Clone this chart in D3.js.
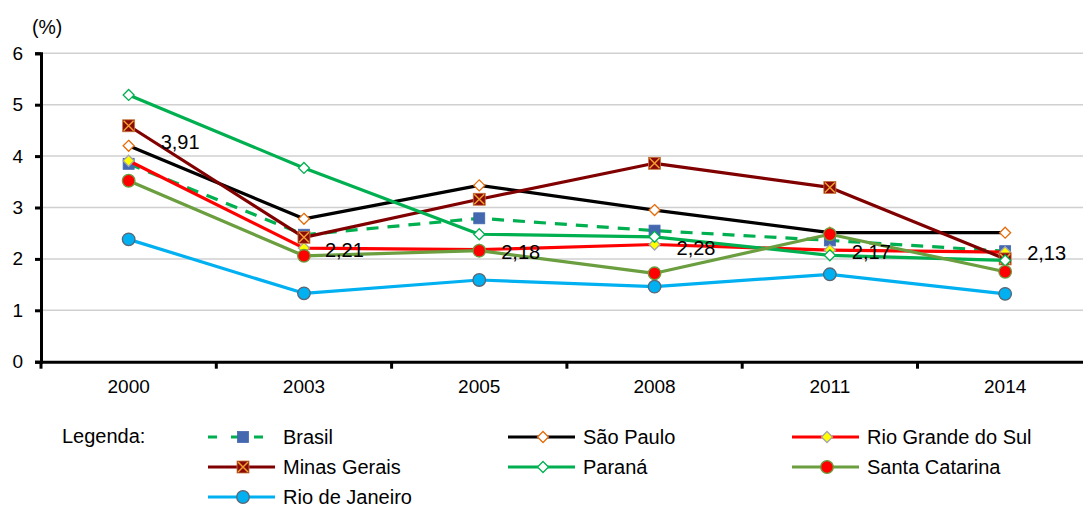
<!DOCTYPE html>
<html>
<head>
<meta charset="utf-8">
<script src="https://cdn.jsdelivr.net/npm/d3@7/dist/d3.min.js"></script>
<style>
  html, body { margin: 0; padding: 0; background: #fff; }
  svg { display: block; font-family: "Liberation Sans", Arial, sans-serif; }
</style>
</head>
<body>
<svg id="chart" width="1083" height="507"></svg>
<script>
// Years on the horizontal axis
const years = ["2000", "2003", "2005", "2008", "2011", "2014"];
const yTicks = [0, 1, 2, 3, 4, 5, 6];

// Rates (%) per region
const brasil          = [3.85, 2.47, 2.79, 2.55, 2.36, 2.15];
const saoPaulo        = [4.20, 2.78, 3.43, 2.95, 2.51, 2.51];
const rioGrandeDoSul  = [3.91, 2.21, 2.18, 2.28, 2.17, 2.13];
const minasGerais     = [4.59, 2.42, 3.16, 3.86, 3.39, 2.00];
const parana          = [5.19, 3.77, 2.48, 2.43, 2.07, 1.97];
const santaCatarina   = [3.52, 2.06, 2.16, 1.72, 2.48, 1.75];
const rioDeJaneiro    = [2.38, 1.33, 1.59, 1.46, 1.70, 1.32];

const seriesNames = ["Brasil", "São Paulo", "Rio Grande do Sul", "Minas Gerais",
                     "Paraná", "Santa Catarina", "Rio de Janeiro"];
const seriesValues = [brasil, saoPaulo, rioGrandeDoSul, minasGerais,
                      parana, santaCatarina, rioDeJaneiro];

// Visual style for each series
const styles = [
  { line: "#00B050", dash: "12,9", marker: "square",  fill: "#4468B0", stroke: "#4468B0" },
  { line: "#000000", dash: null,   marker: "diamond", fill: "#FFFFFF", stroke: "#E46C0A" },
  { line: "#FF0000", dash: null,   marker: "diamond", fill: "#FFFF00", stroke: "#A6A6A6" },
  { line: "#800000", dash: null,   marker: "xbox",    fill: "#8B0A0A", stroke: "#F0A030" },
  { line: "#00B050", dash: null,   marker: "diamond", fill: "#FFFFFF", stroke: "#00B050" },
  { line: "#6A9E3F", dash: null,   marker: "circle",  fill: "#FF0000", stroke: "#6A9E3F" },
  { line: "#00B0F0", dash: null,   marker: "circle",  fill: "#00B0F0", stroke: "#5A6675" }
];

const svg = d3.select("#chart");

const plotLeft = 41, band = 175.3;
const x = d3.scaleBand().domain(years).range([plotLeft, plotLeft + band * years.length]).padding(0);
const y = d3.scaleLinear().domain([0, 6]).range([361.7, 53.3]);
const cx = d => x(d) + x.bandwidth() / 2;

// Horizontal gridlines
svg.append("g").selectAll("line")
  .data(yTicks.filter(t => t > 0))
  .join("line")
  .attr("x1", plotLeft).attr("x2", x.range()[1])
  .attr("y1", d => y(d)).attr("y2", d => y(d))
  .attr("stroke", "#D0D0D0").attr("stroke-width", 1.5);

// Y axis
const yAxis = svg.append("g")
  .attr("transform", `translate(${plotLeft},0)`)
  .call(d3.axisLeft(y).tickValues(yTicks).tickSize(6).tickPadding(12).tickFormat(d3.format("d")));
yAxis.select(".domain").attr("stroke", "#000").attr("stroke-width", 3);
yAxis.selectAll(".tick line").attr("stroke", "#000").attr("stroke-width", 3);
yAxis.selectAll("text").attr("font-size", 19).attr("fill", "#000")
  .attr("font-family", "Liberation Sans, Arial, sans-serif");

// Unit label
svg.append("text").attr("x", 32).attr("y", 34)
  .attr("font-size", 19.5).attr("fill", "#000").text("(%)");

// X axis with tick marks on category boundaries
const xAxis = svg.append("g")
  .attr("transform", `translate(0,${y(0)})`)
  .call(d3.axisBottom(x).tickSize(0).tickPadding(18));
xAxis.select(".domain").attr("stroke", "#000").attr("stroke-width", 3);
xAxis.selectAll("text").attr("font-size", 19).attr("fill", "#000")
  .attr("font-family", "Liberation Sans, Arial, sans-serif");
xAxis.selectAll("line.bound")
  .data(years.map(d => x(d)).concat([x.range()[1]]))
  .join("line").attr("class", "bound")
  .attr("x1", d => d).attr("x2", d => d)
  .attr("y1", 0).attr("y2", 7)
  .attr("stroke", "#000").attr("stroke-width", 3);

// Marker drawing
function drawMarker(g, type, s) {
  if (type === "square") {
    g.append("rect").attr("x", -5.5).attr("y", -5.5).attr("width", 11).attr("height", 11)
      .attr("fill", s.fill).attr("stroke", s.stroke).attr("stroke-width", 0.8);
  } else if (type === "diamond") {
    g.append("path").attr("d", "M0,-5.5L5.5,0L0,5.5L-5.5,0Z")
      .attr("fill", s.fill).attr("stroke", s.stroke).attr("stroke-width", 1.3);
  } else if (type === "circle") {
    g.append("circle").attr("r", 6.3)
      .attr("fill", s.fill).attr("stroke", s.stroke).attr("stroke-width", 1.3);
  } else if (type === "xbox") {
    g.append("rect").attr("x", -6).attr("y", -6).attr("width", 12).attr("height", 12)
      .attr("fill", s.fill).attr("stroke", "#C87A3A").attr("stroke-width", 0.8);
    g.append("path").attr("d", "M-5,-5L5,5M5,-5L-5,5")
      .attr("stroke", s.stroke).attr("stroke-width", 1.5).attr("fill", "none");
  }
}

const line = d3.line().x(d => cx(d.year)).y(d => y(d.value));

seriesValues.forEach((vals, i) => {
  const s = styles[i];
  const pts = years.map((yr, j) => ({ year: yr, value: vals[j] }));
  const g = svg.append("g").attr("class", "series");
  g.append("path").datum(pts)
    .attr("d", line)
    .attr("fill", "none")
    .attr("stroke", s.line)
    .attr("stroke-width", 3.2)
    .attr("stroke-linejoin", "round")
    .attr("stroke-dasharray", s.dash);
  g.selectAll("g.m").data(pts).join("g").attr("class", "m")
    .attr("transform", d => `translate(${cx(d.year)},${y(d.value)})`)
    .each(function () { drawMarker(d3.select(this), s.marker, s); });
});

// Value labels for Rio Grande do Sul
const labelShift = [[32, -19], [21, 2], [22, 2], [22, 3], [22, 2], [22, 1]];
svg.append("g").selectAll("text")
  .data(years.map((yr, j) => ({ year: yr, value: rioGrandeDoSul[j], k: j })))
  .join("text")
  .attr("x", d => cx(d.year) + labelShift[d.k][0])
  .attr("y", d => y(d.value) + labelShift[d.k][1])
  .attr("dominant-baseline", "central")
  .attr("font-size", 20).attr("fill", "#000")
  .text(d => d.value.toFixed(2).replace(".", ","));

// Legend
svg.append("text").attr("x", 62).attr("y", 436).attr("dominant-baseline", "central")
  .attr("font-size", 20).attr("fill", "#000").text("Legenda:");

const legendCols = [208, 508, 792];
const legendRows = [437, 467, 497];
seriesNames.forEach((name, i) => {
  const s = styles[i];
  const lx = legendCols[i % 3], ly = legendRows[Math.floor(i / 3)];
  const g = svg.append("g").attr("transform", `translate(${lx},${ly})`);
  g.append("line").attr("x1", 0).attr("x2", 67).attr("y1", 0).attr("y2", 0)
    .attr("stroke", s.line).attr("stroke-width", 3.2)
    .attr("stroke-dasharray", s.dash ? "9,14" : null);
  const m = g.append("g").attr("transform", "translate(35,0)");
  drawMarker(m, s.marker, s);
  g.append("text").attr("x", 75).attr("y", 0).attr("dominant-baseline", "central")
    .attr("font-size", 20).attr("fill", "#000").text(name);
});
</script>
</body>
</html>
